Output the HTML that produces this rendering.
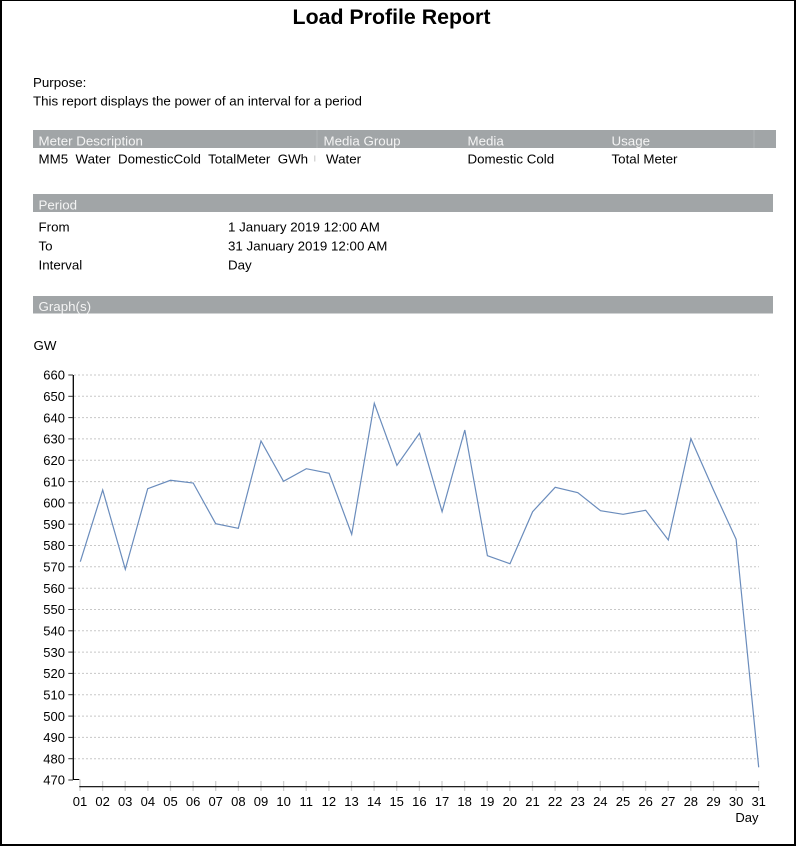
<!DOCTYPE html>
<html>
<head>
<meta charset="utf-8">
<style>
  html, body { margin: 0; padding: 0; background: #fff; }
  body { width: 796px; height: 846px; overflow: hidden; }
  svg { display: block; }
  text { font-family: "Liberation Sans", Arial, sans-serif; }
</style>
</head>
<body>
<svg width="796" height="846" viewBox="0 0 796 846" xmlns="http://www.w3.org/2000/svg">
  <rect x="0" y="0" width="796" height="846" fill="#ffffff"/>
  <!-- page border -->
  <rect x="0" y="0" width="2" height="846" fill="#000"/>
  <rect x="794" y="0" width="2" height="846" fill="#000"/>
  <rect x="0" y="0" width="796" height="1" fill="#000"/>
  <rect x="0" y="844" width="796" height="2" fill="#000"/>

  <!-- Title -->
  <text x="391.5" y="24" font-size="21.33" font-weight="bold" text-anchor="middle" fill="#000">Load Profile Report</text>

  <!-- Purpose -->
  <text x="33" y="87" font-size="13.33" fill="#000">Purpose:</text>
  <text x="33" y="105.5" font-size="13.33" fill="#000">This report displays the power of an interval for a period</text>

  <!-- Meter header bar -->
  <rect x="33" y="130" width="743" height="18" fill="#a1a5a7"/>
  <rect x="316.5" y="130" width="1" height="18" fill="#aeb2b4"/>
  <rect x="753.5" y="130" width="1" height="18" fill="#aeb2b4"/>
  <text x="38.5" y="145.5" font-size="13.33" fill="#f4f4f4">Meter Description</text>
  <text x="323.5" y="145.5" font-size="13.33" fill="#f4f4f4">Media Group</text>
  <text x="467.5" y="145.5" font-size="13.33" fill="#f4f4f4">Media</text>
  <text x="611.5" y="145.5" font-size="13.33" fill="#f4f4f4">Usage</text>

  <text x="38.5" y="163.5" font-size="13.33" fill="#000" xml:space="preserve">MM5  Water  DomesticCold  TotalMeter  GWh</text>
  <rect x="314.3" y="155.5" width="1" height="6" fill="#c4c4c4"/>
  <text x="326" y="163.5" font-size="13.33" fill="#000">Water</text>
  <text x="467.5" y="163.5" font-size="13.33" fill="#000">Domestic Cold</text>
  <text x="611.5" y="163.5" font-size="13.33" fill="#000">Total Meter</text>

  <!-- Period bar -->
  <rect x="33" y="194" width="740" height="18" fill="#a1a5a7"/>
  <text x="38.5" y="209.5" font-size="13.33" fill="#f4f4f4">Period</text>
  <text x="38.5" y="231.5" font-size="13.33" fill="#000">From</text>
  <text x="228" y="231.5" font-size="13.33" fill="#000">1 January 2019 12:00 AM</text>
  <text x="38.5" y="250.5" font-size="13.33" fill="#000">To</text>
  <text x="228" y="250.5" font-size="13.33" fill="#000">31 January 2019 12:00 AM</text>
  <text x="38.5" y="269.5" font-size="13.33" fill="#000">Interval</text>
  <text x="228" y="269.5" font-size="13.33" fill="#000">Day</text>

  <!-- Graph bar -->
  <rect x="33" y="296" width="740" height="17.5" fill="#a1a5a7"/>
  <text x="38.5" y="311" font-size="13.33" fill="#f4f4f4">Graph(s)</text>

  <text x="33.5" y="350" font-size="13.33" fill="#000">GW</text>

  <!-- Gridlines -->
  <g stroke="#c8c8c8" stroke-width="1" stroke-dasharray="2,2">
    <line x1="74" y1="375" x2="759" y2="375"/>
    <line x1="74" y1="396.3" x2="759" y2="396.3"/>
    <line x1="74" y1="417.6" x2="759" y2="417.6"/>
    <line x1="74" y1="438.9" x2="759" y2="438.9"/>
    <line x1="74" y1="460.3" x2="759" y2="460.3"/>
    <line x1="74" y1="481.6" x2="759" y2="481.6"/>
    <line x1="74" y1="502.9" x2="759" y2="502.9"/>
    <line x1="74" y1="524.2" x2="759" y2="524.2"/>
    <line x1="74" y1="545.5" x2="759" y2="545.5"/>
    <line x1="74" y1="566.8" x2="759" y2="566.8"/>
    <line x1="74" y1="588.2" x2="759" y2="588.2"/>
    <line x1="74" y1="609.5" x2="759" y2="609.5"/>
    <line x1="74" y1="630.8" x2="759" y2="630.8"/>
    <line x1="74" y1="652.1" x2="759" y2="652.1"/>
    <line x1="74" y1="673.4" x2="759" y2="673.4"/>
    <line x1="74" y1="694.7" x2="759" y2="694.7"/>
    <line x1="74" y1="716.1" x2="759" y2="716.1"/>
    <line x1="74" y1="737.4" x2="759" y2="737.4"/>
    <line x1="74" y1="758.7" x2="759" y2="758.7"/>
  </g>

  <!-- Y axis -->
  <line x1="73.3" y1="375" x2="73.3" y2="780" stroke="#000" stroke-width="1.3"/>
  <line x1="73" y1="779.5" x2="79.3" y2="779.5" stroke="#000" stroke-width="1"/>
  <g stroke="#333" stroke-width="1">
    <line x1="68.3" y1="375" x2="73" y2="375"/>
    <line x1="68.3" y1="396.3" x2="73" y2="396.3"/>
    <line x1="68.3" y1="417.6" x2="73" y2="417.6"/>
    <line x1="68.3" y1="438.9" x2="73" y2="438.9"/>
    <line x1="68.3" y1="460.3" x2="73" y2="460.3"/>
    <line x1="68.3" y1="481.6" x2="73" y2="481.6"/>
    <line x1="68.3" y1="502.9" x2="73" y2="502.9"/>
    <line x1="68.3" y1="524.2" x2="73" y2="524.2"/>
    <line x1="68.3" y1="545.5" x2="73" y2="545.5"/>
    <line x1="68.3" y1="566.8" x2="73" y2="566.8"/>
    <line x1="68.3" y1="588.2" x2="73" y2="588.2"/>
    <line x1="68.3" y1="609.5" x2="73" y2="609.5"/>
    <line x1="68.3" y1="630.8" x2="73" y2="630.8"/>
    <line x1="68.3" y1="652.1" x2="73" y2="652.1"/>
    <line x1="68.3" y1="673.4" x2="73" y2="673.4"/>
    <line x1="68.3" y1="694.7" x2="73" y2="694.7"/>
    <line x1="68.3" y1="716.1" x2="73" y2="716.1"/>
    <line x1="68.3" y1="737.4" x2="73" y2="737.4"/>
    <line x1="68.3" y1="758.7" x2="73" y2="758.7"/>
    <line x1="68.3" y1="780" x2="73" y2="780"/>
  </g>
  <g font-size="13" text-anchor="end" fill="#000">
    <text x="65" y="379.7">660</text>
    <text x="65" y="401">650</text>
    <text x="65" y="422.3">640</text>
    <text x="65" y="443.6">630</text>
    <text x="65" y="465">620</text>
    <text x="65" y="486.3">610</text>
    <text x="65" y="507.6">600</text>
    <text x="65" y="528.9">590</text>
    <text x="65" y="550.2">580</text>
    <text x="65" y="571.5">570</text>
    <text x="65" y="592.9">560</text>
    <text x="65" y="614.2">550</text>
    <text x="65" y="635.5">540</text>
    <text x="65" y="656.8">530</text>
    <text x="65" y="678.1">520</text>
    <text x="65" y="699.4">510</text>
    <text x="65" y="720.8">500</text>
    <text x="65" y="742.1">490</text>
    <text x="65" y="763.4">480</text>
    <text x="65" y="784.7">470</text>
  </g>

  <!-- X axis -->
  <g stroke="#cfcfcf" stroke-width="1.3">
    <line x1="80" y1="779.5" x2="80" y2="791"/>
    <line x1="102.6" y1="781" x2="102.6" y2="791"/>
    <line x1="125.2" y1="781" x2="125.2" y2="791"/>
    <line x1="147.9" y1="781" x2="147.9" y2="791"/>
    <line x1="170.5" y1="781" x2="170.5" y2="791"/>
    <line x1="193.1" y1="781" x2="193.1" y2="791"/>
    <line x1="215.7" y1="781" x2="215.7" y2="791"/>
    <line x1="238.4" y1="781" x2="238.4" y2="791"/>
    <line x1="261" y1="781" x2="261" y2="791"/>
    <line x1="283.6" y1="781" x2="283.6" y2="791"/>
    <line x1="306.2" y1="781" x2="306.2" y2="791"/>
    <line x1="328.9" y1="781" x2="328.9" y2="791"/>
    <line x1="351.5" y1="781" x2="351.5" y2="791"/>
    <line x1="374.1" y1="781" x2="374.1" y2="791"/>
    <line x1="396.7" y1="781" x2="396.7" y2="791"/>
    <line x1="419.4" y1="781" x2="419.4" y2="791"/>
    <line x1="442" y1="781" x2="442" y2="791"/>
    <line x1="464.6" y1="781" x2="464.6" y2="791"/>
    <line x1="487.2" y1="781" x2="487.2" y2="791"/>
    <line x1="509.8" y1="781" x2="509.8" y2="791"/>
    <line x1="532.5" y1="781" x2="532.5" y2="791"/>
    <line x1="555.1" y1="781" x2="555.1" y2="791"/>
    <line x1="577.7" y1="781" x2="577.7" y2="791"/>
    <line x1="600.3" y1="781" x2="600.3" y2="791"/>
    <line x1="623" y1="781" x2="623" y2="791"/>
    <line x1="645.6" y1="781" x2="645.6" y2="791"/>
    <line x1="668.2" y1="781" x2="668.2" y2="791"/>
    <line x1="690.8" y1="781" x2="690.8" y2="791"/>
    <line x1="713.5" y1="781" x2="713.5" y2="791"/>
    <line x1="736.1" y1="781" x2="736.1" y2="791"/>
    <line x1="758.7" y1="781" x2="758.7" y2="791"/>
  </g>
  <line x1="79.3" y1="786.7" x2="759" y2="786.7" stroke="#000" stroke-width="1.2"/>
  <g font-size="13" text-anchor="middle" fill="#000">
    <text x="80" y="806">01</text>
    <text x="102.6" y="806">02</text>
    <text x="125.2" y="806">03</text>
    <text x="147.9" y="806">04</text>
    <text x="170.5" y="806">05</text>
    <text x="193.1" y="806">06</text>
    <text x="215.7" y="806">07</text>
    <text x="238.4" y="806">08</text>
    <text x="261" y="806">09</text>
    <text x="283.6" y="806">10</text>
    <text x="306.2" y="806">11</text>
    <text x="328.9" y="806">12</text>
    <text x="351.5" y="806">13</text>
    <text x="374.1" y="806">14</text>
    <text x="396.7" y="806">15</text>
    <text x="419.4" y="806">16</text>
    <text x="442" y="806">17</text>
    <text x="464.6" y="806">18</text>
    <text x="487.2" y="806">19</text>
    <text x="509.8" y="806">20</text>
    <text x="532.5" y="806">21</text>
    <text x="555.1" y="806">22</text>
    <text x="577.7" y="806">23</text>
    <text x="600.3" y="806">24</text>
    <text x="623" y="806">25</text>
    <text x="645.6" y="806">26</text>
    <text x="668.2" y="806">27</text>
    <text x="690.8" y="806">28</text>
    <text x="713.5" y="806">29</text>
    <text x="736.1" y="806">30</text>
    <text x="758.7" y="806">31</text>
  </g>
  <text x="758.5" y="822" font-size="13" text-anchor="end" fill="#000">Day</text>

  <!-- Data line -->
  <polyline fill="none" stroke="#6a8cbc" stroke-width="1.2" stroke-linejoin="miter"
    points="80.3,561.7 102.7,490 125.3,569.3 147.7,488.7 170.5,480.3 193.2,483 215.7,523.7 238.3,528.3 261,441 283.5,481.3 306.3,468.7 329.1,473.3 351.7,534.3 374.3,403.3 396.9,465.3 419.5,433.3 442.1,511.7 464.8,430 487.4,555.7 510,563.7 532.6,511.7 555.2,487.3 577.8,492.7 600.5,510.7 623.1,514.3 645.7,510.3 668.3,540 690.9,438.7 713.5,490 736.1,539.3 758.7,767.3"/>
</svg>
</body>
</html>
